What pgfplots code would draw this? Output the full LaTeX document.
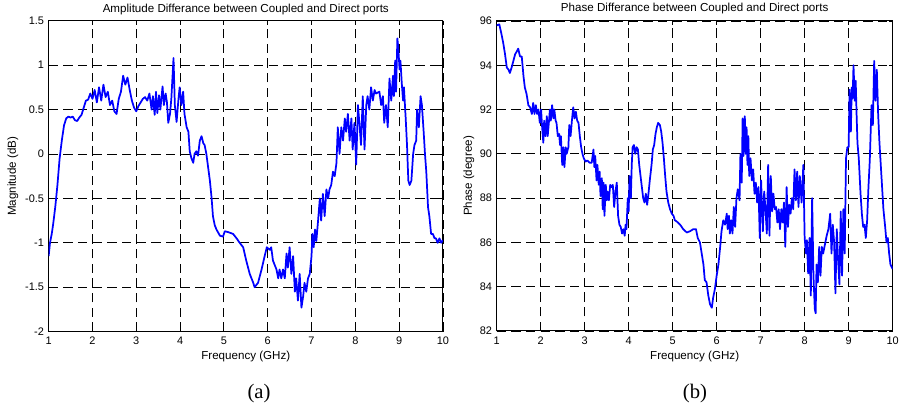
\documentclass[border=0pt]{standalone}
\usepackage{pgfplots}
\pgfplotsset{compat=1.18}
\usepackage{fontspec}
\setmainfont{Liberation Sans}
\newfontfamily\seriffont{Liberation Serif}
\definecolor{mblue}{RGB}{0,0,255}
\pgfplotsset{
  every axis title shift=0pt,
  mystyle/.style={
    scale only axis,
    xmin=1, xmax=10,
    xtick={1,2,3,4,5,6,7,8,9,10},
    grid=major,
    major grid style={black, line width=0.6pt, dash pattern=on 7pt off 4pt},
    axis line style={line width=0.75pt},
    tick align=inside,
    major tick length=3pt,
    tick style={black, line width=0.6pt},
    /pgf/number format/assume math mode=true,
    ticklabel style={font=\fontsize{8.2}{9}\selectfont},
    xticklabel style={anchor=base, yshift=-10pt},
    label style={font=\fontsize{8.7}{10}\selectfont},
    title style={font=\fontsize{8.7}{10}\selectfont, anchor=center},
    xlabel={Frequency (GHz)},
  }
}
\begin{document}
\begin{tikzpicture}
\useasboundingbox (0,0) rectangle (675pt,306.75pt);
\begin{axis}[mystyle,
  at={(36.5pt,58.0pt)}, anchor=south west,
  width=295.7pt, height=233.25pt,
  ymin=-2, ymax=1.5,
  ytick={-2,-1.5,-1,-0.5,0,0.5,1,1.5},
  yticklabels={-2,-1.5,-1,-0.5,0,0.5,1,1.5},
  title={Amplitude Differance between Coupled and Direct ports},
  title style={at={(axis description cs:0.5,1.0344)}},
  ylabel={Magnitude (dB)},
  ylabel style={at={(axis description cs:-0.0905,0.5)}, anchor=center},
  xlabel style={at={(axis description cs:0.5,-0.0814)}, anchor=center},
]
\addplot[mblue, line width=1.3pt, line join=round] coordinates {
(1.00,-1.15) (1.03,-1.00) (1.07,-0.90) (1.10,-0.80) (1.15,-0.60) (1.20,-0.35)
(1.25,-0.05) (1.30,0.15) (1.35,0.32) (1.40,0.40) (1.45,0.42) (1.50,0.41)
(1.55,0.42) (1.60,0.38) (1.65,0.37) (1.70,0.41) (1.75,0.44) (1.80,0.52)
(1.85,0.60) (1.90,0.61) (1.95,0.68) (2.00,0.62) (2.05,0.72) (2.10,0.58)
(2.15,0.75) (2.20,0.60) (2.25,0.78) (2.30,0.64) (2.35,0.70) (2.40,0.55)
(2.45,0.60) (2.50,0.48) (2.55,0.45) (2.60,0.62) (2.65,0.70) (2.70,0.88)
(2.75,0.78) (2.80,0.86) (2.85,0.72) (2.90,0.60) (2.95,0.52) (3.00,0.48)
(3.05,0.54) (3.10,0.58) (3.15,0.62) (3.20,0.64) (3.25,0.60) (3.30,0.68)
(3.35,0.50) (3.38,0.65) (3.42,0.44) (3.45,0.70) (3.48,0.46) (3.52,0.66)
(3.55,0.50) (3.60,0.76) (3.63,0.55) (3.67,0.68) (3.70,0.58) (3.73,0.35)
(3.77,0.45) (3.80,0.62) (3.85,1.08) (3.88,0.55) (3.92,0.36) (3.96,0.60)
(3.99,0.75) (4.03,0.55) (4.07,0.70) (4.10,0.45) (4.15,0.30) (4.19,0.25)
(4.22,0.03) (4.26,-0.05) (4.30,-0.10) (4.33,0.00) (4.37,0.03) (4.41,-0.02)
(4.45,0.15) (4.49,0.20) (4.53,0.12) (4.56,0.10) (4.60,0.00) (4.64,-0.15)
(4.68,-0.30) (4.72,-0.50) (4.75,-0.70) (4.79,-0.80) (4.83,-0.85) (4.91,-0.92)
(4.98,-0.93) (5.02,-0.87) (5.10,-0.88) (5.21,-0.90) (5.29,-0.95) (5.36,-1.00)
(5.44,-1.05) (5.51,-1.20) (5.59,-1.35) (5.67,-1.45) (5.70,-1.50) (5.78,-1.45)
(5.86,-1.30) (5.93,-1.15) (5.98,-1.05) (6.05,-1.08) (6.08,-1.05) (6.12,-1.20)
(6.20,-1.30) (6.24,-1.40) (6.27,-1.30) (6.31,-1.40) (6.35,-1.30) (6.39,-1.40)
(6.43,-1.12) (6.46,-1.28) (6.50,-1.05) (6.54,-1.35) (6.58,-1.15) (6.62,-1.55)
(6.65,-1.40) (6.69,-1.65) (6.73,-1.35) (6.77,-1.73) (6.81,-1.60) (6.84,-1.45)
(6.88,-1.55) (6.92,-1.40) (6.96,-1.35) (7.00,-1.15) (7.02,-0.90) (7.05,-1.05)
(7.08,-0.85) (7.11,-0.98) (7.15,-0.75) (7.19,-0.50) (7.22,-0.75) (7.26,-0.45)
(7.30,-0.70) (7.34,-0.40) (7.38,-0.50) (7.41,-0.40) (7.45,-0.35) (7.49,-0.20)
(7.53,-0.25) (7.57,-0.10) (7.60,0.30) (7.64,0.00) (7.68,0.30) (7.72,0.15)
(7.76,0.40) (7.79,0.25) (7.83,0.45) (7.87,0.15) (7.91,0.40) (7.94,0.05)
(7.98,0.35) (8.02,-0.12) (8.06,0.55) (8.10,0.30) (8.13,0.10) (8.17,0.65)
(8.21,0.05) (8.25,0.55) (8.28,0.65) (8.32,0.50) (8.36,0.75) (8.40,0.60)
(8.44,0.72) (8.47,0.68) (8.55,0.70) (8.59,0.55) (8.63,0.65) (8.66,0.35)
(8.70,0.55) (8.74,0.30) (8.78,0.85) (8.82,0.60) (8.86,0.88) (8.88,0.65)
(8.91,1.05) (8.93,0.70) (8.96,1.30) (8.98,1.20) (9.01,0.95) (9.03,1.05)
(9.06,0.80) (9.09,0.60) (9.11,0.75) (9.15,0.40) (9.18,0.10) (9.21,-0.30)
(9.24,-0.35) (9.28,-0.30) (9.32,0.00) (9.35,0.10) (9.39,0.15) (9.41,0.50)
(9.45,0.30) (9.49,0.65) (9.52,0.55) (9.56,0.25) (9.59,0.00) (9.62,-0.20)
(9.66,-0.60) (9.69,-0.70) (9.73,-0.90) (9.77,-0.90) (9.81,-0.95) (9.84,-0.95)
(9.88,-1.00) (9.92,-0.95) (9.96,-1.00) (10.00,-0.97)
};
\end{axis}
\begin{axis}[mystyle,
  at={(372.5pt,58.5pt)}, anchor=south west,
  width=297pt, height=232.5pt,
  ymin=82, ymax=96,
  ytick={82,84,86,88,90,92,94,96},
  title={Phase Differance between Coupled and Direct ports},
  title style={at={(axis description cs:0.5,1.0387)}},
  ylabel={Phase (degree)},
  ylabel style={at={(axis description cs:-0.070,0.5)}, anchor=center},
  xlabel style={at={(axis description cs:0.5,-0.0839)}, anchor=center},
]
\addplot[mblue, line width=1.3pt, line join=round] coordinates {
(1.00,95.8) (1.06,95.85) (1.11,95.4) (1.15,95.0) (1.19,94.5) (1.23,93.9)
(1.27,93.8) (1.30,93.65) (1.34,93.9) (1.38,94.2) (1.42,94.5) (1.45,94.6)
(1.49,94.75) (1.53,94.4) (1.57,94.4) (1.61,93.5) (1.64,93.0) (1.68,92.7)
(1.72,92.2) (1.76,92.1) (1.80,91.8) (1.83,92.3) (1.86,91.8) (1.89,92.2)
(1.92,91.8) (1.95,92.0) (1.98,91.4) (2.01,92.0) (2.03,91.3) (2.06,90.5)
(2.08,91.5) (2.11,90.8) (2.14,91.7) (2.16,90.8) (2.19,91.5) (2.21,92.0)
(2.23,91.5) (2.26,92.2) (2.29,91.6) (2.31,92.0) (2.34,91.5) (2.36,91.4)
(2.39,90.8) (2.42,90.9) (2.44,90.4) (2.46,90.8) (2.49,89.5) (2.52,90.3)
(2.54,89.4) (2.57,90.3) (2.59,90.0) (2.63,90.3) (2.65,91.3) (2.68,90.8)
(2.71,91.5) (2.74,92.1) (2.77,91.6) (2.80,91.9) (2.83,91.5) (2.86,91.4)
(2.89,90.8) (2.92,90.3) (2.95,90.0) (2.98,89.8) (3.02,89.65) (3.06,89.7)
(3.11,89.6) (3.16,89.6) (3.20,90.2) (3.22,89.4) (3.24,89.9) (3.27,88.8)
(3.29,89.5) (3.32,88.6) (3.34,89.2) (3.36,88.1) (3.39,88.9) (3.41,87.5)
(3.43,88.7) (3.45,87.2) (3.48,88.6) (3.50,87.9) (3.52,88.3) (3.55,87.9)
(3.58,88.6) (3.61,88.5) (3.64,88.6) (3.67,87.6) (3.70,88.3) (3.73,88.7)
(3.76,87.2) (3.79,86.8) (3.82,86.7) (3.85,86.4) (3.88,86.6) (3.91,86.3)
(3.93,86.8) (3.95,86.6) (3.98,88.0) (4.00,87.4) (4.02,89.0) (4.05,88.0)
(4.07,89.5) (4.09,90.3) (4.12,90.4) (4.15,90.0) (4.18,90.3) (4.21,90.2)
(4.24,89.5) (4.27,89.0) (4.30,88.5) (4.33,88.0) (4.36,87.8) (4.39,88.2)
(4.42,87.7) (4.45,88.2) (4.48,88.8) (4.52,89.5) (4.55,90.2) (4.58,90.4)
(4.61,90.9) (4.64,91.2) (4.67,91.4) (4.71,91.3) (4.74,91.0) (4.77,90.5)
(4.80,89.8) (4.83,89.0) (4.86,88.3) (4.90,87.8) (4.94,87.5) (4.98,87.3)
(5.02,87.2) (5.05,87.0) (5.09,86.95) (5.17,86.8) (5.24,86.6) (5.32,86.45)
(5.39,86.5) (5.47,86.6) (5.53,86.6) (5.57,86.2) (5.62,86.0) (5.66,85.5)
(5.70,85.0) (5.73,84.3) (5.77,84.2) (5.81,83.6) (5.85,83.2) (5.89,83.05)
(5.92,83.5) (5.96,83.9) (6.00,84.5) (6.04,85.0) (6.08,85.8) (6.11,86.5)
(6.15,87.0) (6.19,86.8) (6.23,87.3) (6.25,86.6) (6.28,87.2) (6.30,86.4)
(6.33,87.0) (6.36,86.4) (6.39,87.6) (6.42,86.7) (6.45,88.0) (6.48,88.4)
(6.52,87.9) (6.54,90.0) (6.57,88.7) (6.59,91.6) (6.61,89.9) (6.64,91.7)
(6.66,90.0) (6.68,91.2) (6.70,89.5) (6.72,90.8) (6.74,89.0) (6.77,89.8)
(6.80,88.8) (6.83,89.3) (6.86,88.2) (6.89,88.7) (6.92,87.8) (6.95,88.5)
(6.98,86.2) (7.01,88.8) (7.05,86.5) (7.08,88.3) (7.11,87.5) (7.14,86.4)
(7.17,89.5) (7.20,86.3) (7.23,89.0) (7.26,87.4) (7.29,88.2) (7.32,87.5)
(7.35,87.6) (7.38,86.9) (7.41,87.5) (7.44,86.6) (7.47,87.5) (7.50,86.9)
(7.53,87.8) (7.56,85.8) (7.59,88.5) (7.62,86.7) (7.65,87.7) (7.68,87.3)
(7.71,88.0) (7.74,87.5) (7.77,89.3) (7.80,87.9) (7.83,89.2) (7.86,87.6)
(7.89,89.0) (7.93,87.8) (7.97,89.5) (8.00,86.2) (8.03,85.5) (8.05,86.1)
(8.08,84.6) (8.11,86.2) (8.14,83.6) (8.17,88.0) (8.20,84.5) (8.23,83.0)
(8.25,82.8) (8.27,85.0) (8.30,84.2) (8.33,85.8) (8.36,84.5) (8.39,85.8)
(8.42,85.5) (8.46,85.9) (8.50,86.3) (8.54,86.6) (8.58,87.3) (8.61,85.5)
(8.64,86.8) (8.67,86.0) (8.70,83.7) (8.73,86.6) (8.76,85.2) (8.79,84.1)
(8.82,87.4) (8.85,84.5) (8.88,87.5) (8.91,85.5) (8.94,89.8) (8.97,90.3)
(9.00,90.3) (9.02,92.9) (9.05,91.0) (9.07,93.0) (9.09,92.5) (9.11,94.0)
(9.14,92.4) (9.16,93.3) (9.18,91.8) (9.20,90.5) (9.23,89.8) (9.27,88.2)
(9.30,87.3) (9.33,86.7) (9.36,86.8) (9.39,86.2) (9.42,87.0) (9.45,88.5)
(9.48,89.7) (9.52,92.2) (9.55,91.3) (9.58,94.2) (9.61,92.4) (9.64,93.8)
(9.67,91.8) (9.70,90.5) (9.73,89.5) (9.76,88.5) (9.79,87.5) (9.83,86.7)
(9.86,86.0) (9.89,86.2) (9.92,85.5) (9.95,85.0) (10.00,84.8)
};
\end{axis}
\node[font=\seriffont\fontsize{15.5}{17}\selectfont] at (194.25pt,11.25pt) {(a)};
\node[font=\seriffont\fontsize{15.5}{17}\selectfont] at (521.25pt,11.25pt) {(b)};
\end{tikzpicture}
\end{document}
